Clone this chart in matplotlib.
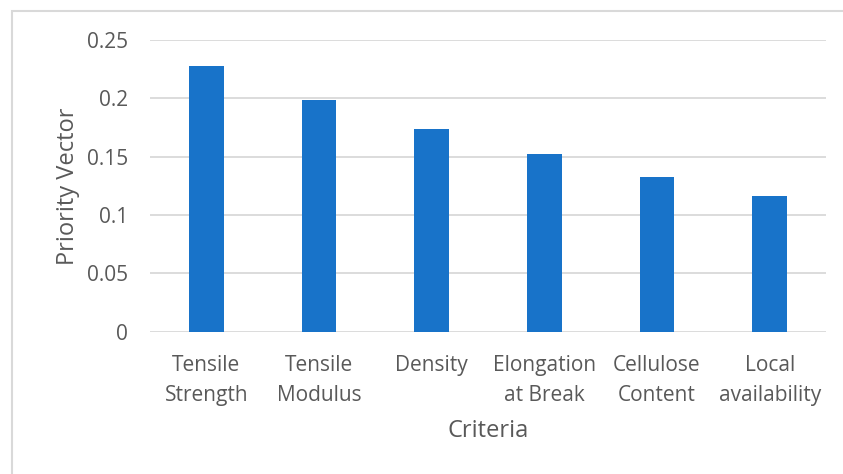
import matplotlib
matplotlib.use("Agg")
import matplotlib.pyplot as plt
from matplotlib.patches import Rectangle

# Priority vector for each selection criterion
criteria = ["Tensile\nStrength", "Tensile\nModulus", "Density",
            "Elongation\nat Break", "Cellulose\nContent", "Local\navailability"]
priority = [0.228, 0.199, 0.174, 0.152, 0.133, 0.116]
yticks = [0, 0.05, 0.1, 0.15, 0.2, 0.25]
ytick_labels = ["0", "0.05", "0.1", "0.15", "0.2", "0.25"]

plt.rcParams['font.family'] = ['Open Sans', 'DejaVu Sans']
text_color = '#595959'
grid_color = '#D9D9D9'

fig = plt.figure(figsize=(8.43, 4.74), dpi=100)
W, H = 843, 474

# chart area frame (runs off the right and bottom edges)
fig.patches.append(Rectangle((12 / W, -0.1), 1.0, (H - 10.5) / H + 0.1,
                             transform=fig.transFigure, fill=False,
                             edgecolor=grid_color, linewidth=1.5))

ax = fig.add_axes([150 / W, (H - 331.7) / H, (826 - 150) / W, (331.7 - 40) / H])
x = range(len(criteria))
ax.bar(x, priority, width=0.31, color='#1873C9', zorder=3)

ax.set_xlim(-0.5, len(criteria) - 0.5)
ax.set_ylim(0, 0.25)
ax.set_yticks(yticks)
ax.set_yticklabels(ytick_labels)
ax.set_xticks(list(x))
ax.set_xticklabels(criteria, linespacing=1.55)
ax.yaxis.grid(True, color=grid_color, linewidth=1.3, zorder=0)
for s in ax.spines.values():
    s.set_visible(False)
ax.tick_params(axis='both', length=0, labelsize=15, colors=text_color)
ax.tick_params(axis='y', pad=16)
ax.tick_params(axis='x', pad=17)

ax.set_ylabel("Priority Vector", fontsize=17, color=text_color, labelpad=5)
ax.set_xlabel("Criteria", fontsize=17, color=text_color, labelpad=9)

fig.savefig("out.png", dpi=100)
